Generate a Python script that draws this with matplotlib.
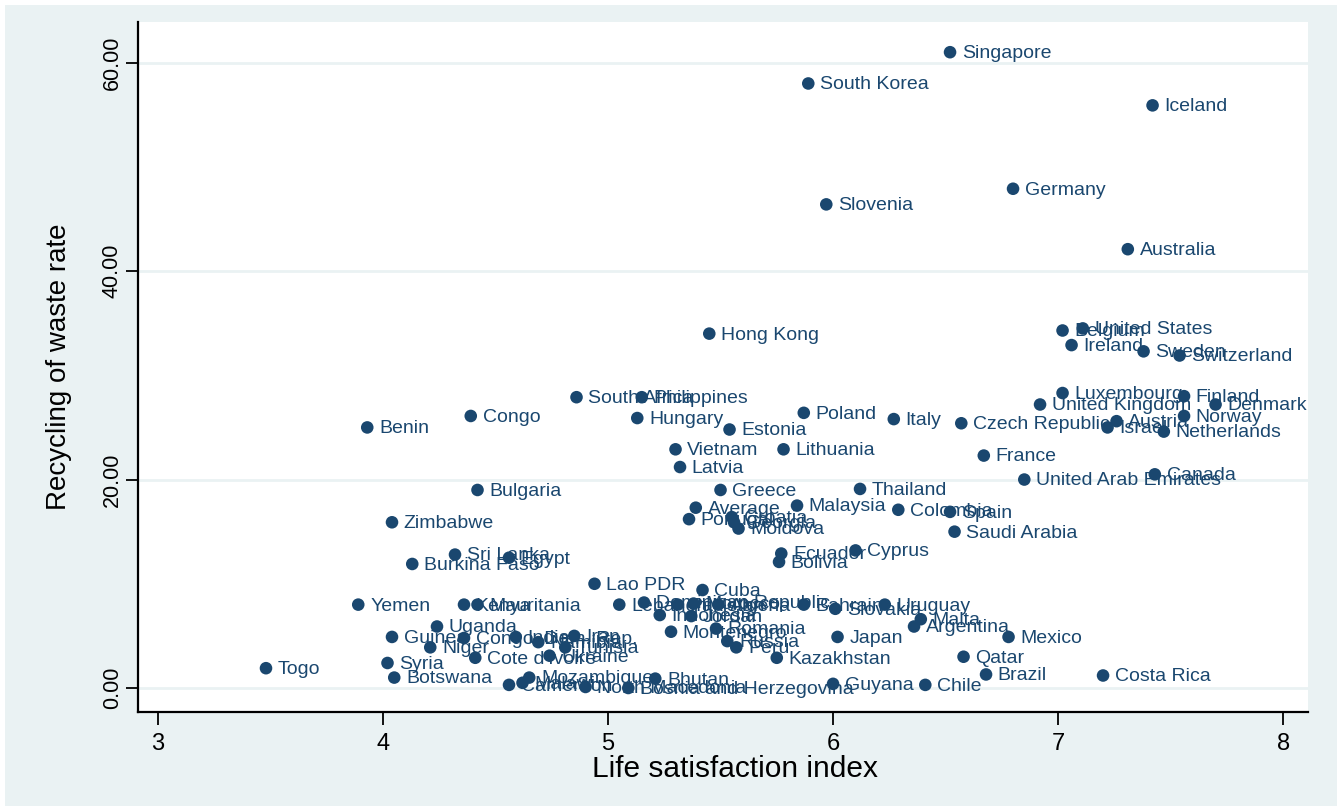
import matplotlib.pyplot as plt
from matplotlib.patches import Rectangle

# life satisfaction index vs. recycling of waste rate, by country
countries = [
    "Singapore", "South Korea", "Iceland", "Germany", "Slovenia", "Australia",
    "Hong Kong", "United States", "Belgium", "Ireland", "Sweden", "Switzerland",
    "South Africa", "Philippines", "Luxembourg", "Finland", "United Kingdom",
    "Denmark", "Congo", "Hungary", "Poland", "Italy", "Norway", "Czech Republic",
    "Austria", "Benin", "Israel", "Estonia", "Netherlands", "Vietnam",
    "Lithuania", "France", "Latvia", "Canada", "United Arab Emirates",
    "Bulgaria", "Greece", "Thailand", "Average", "Malaysia", "Colombia",
    "Spain", "Portugal", "Croatia", "Georgia", "Moldova", "Zimbabwe",
    "Saudi Arabia", "Cyprus", "Ecuador", "Sri Lanka", "Egypt", "Bolivia",
    "Burkina Faso", "Lao PDR", "Cuba", "Yemen", "Kenya", "Mauritania",
    "Lebanon", "Dominican Republic", "Pakistan", "Morocco", "Algeria",
    "Bahrain", "Uruguay", "Slovakia", "Indonesia", "Jordan", "Malta",
    "Argentina", "Uganda", "Romania", "Montenegro", "Iran", "Guinea",
    "Congo, Dem. Rep.", "India", "Japan", "Mexico", "Russia", "Namibia",
    "Niger", "Tunisia", "Peru", "Ukraine", "Cote d'Ivoire", "Kazakhstan",
    "Qatar", "Syria", "Togo", "Brazil", "Costa Rica", "Botswana",
    "Mozambique", "Bhutan", "Malawi", "Cameroon", "Guyana", "Chile",
    "North Macedonia", "Bosnia and Herzegovina",
]
life_sat = [
    6.52, 5.89, 7.42, 6.80, 5.97, 7.31,
    5.45, 7.11, 7.02, 7.06, 7.38, 7.54,
    4.86, 5.15, 7.02, 7.56, 6.92,
    7.70, 4.39, 5.13, 5.87, 6.27, 7.56, 6.57,
    7.26, 3.93, 7.22, 5.54, 7.47, 5.30,
    5.78, 6.67, 5.32, 7.43, 6.85,
    4.42, 5.50, 6.12, 5.39, 5.84, 6.29,
    6.52, 5.36, 5.55, 5.56, 5.58, 4.04,
    6.54, 6.10, 5.77, 4.32, 4.56, 5.76,
    4.13, 4.94, 5.42, 3.89, 4.36, 4.42,
    5.05, 5.16, 5.31, 5.38, 5.49,
    5.87, 6.23, 6.01, 5.23, 5.37, 6.39,
    6.36, 4.24, 5.48, 5.28, 4.85, 4.04,
    4.36, 4.59, 6.02, 6.78, 5.53, 4.69,
    4.21, 4.81, 5.57, 4.74, 4.41, 5.75,
    6.58, 4.02, 3.48, 6.68, 7.20, 4.05,
    4.65, 5.21, 4.62, 4.56, 6.00, 6.41,
    4.90, 5.09,
]
recycling = [
    61.0, 58.0, 55.9, 47.9, 46.4, 42.1,
    34.0, 34.5, 34.3, 32.9, 32.3, 31.9,
    27.9, 27.9, 28.3, 28.0, 27.2,
    27.2, 26.1, 25.9, 26.4, 25.8, 26.1, 25.4,
    25.6, 25.0, 25.0, 24.8, 24.6, 22.9,
    22.9, 22.3, 21.2, 20.5, 20.0,
    19.0, 19.0, 19.1, 17.3, 17.5, 17.1,
    16.9, 16.2, 16.4, 15.9, 15.3, 15.9,
    15.0, 13.2, 12.9, 12.8, 12.5, 12.1,
    11.9, 10.0, 9.4, 8.0, 8.0, 8.0,
    8.0, 8.2, 8.0, 8.1, 8.0,
    8.0, 8.0, 7.6, 7.0, 6.9, 6.6,
    5.9, 5.9, 5.7, 5.4, 5.0, 4.9,
    4.8, 4.9, 4.9, 4.9, 4.5, 4.4,
    3.9, 3.9, 3.9, 3.1, 2.9, 2.9,
    3.0, 2.4, 1.9, 1.3, 1.2, 1.0,
    1.0, 0.9, 0.5, 0.3, 0.4, 0.3,
    0.1, 0.0,
]
x_ticks = [3, 4, 5, 6, 7, 8]
y_ticks = [0, 20, 40, 60]

navy = "#1a476f"
bg = "#eaf2f3"

plt.rcParams['font.family'] = ['Liberation Sans', 'DejaVu Sans']

fig = plt.figure(figsize=(13.42, 8.11), dpi=100)
fig.patches.append(Rectangle((0.004, 0.006), 0.992, 0.988, transform=fig.transFigure,
                             facecolor=bg, edgecolor="none", zorder=-1))
ax = fig.add_axes([0.1028, 0.1221, 0.8719, 0.8508])
ax.set_facecolor("white")

ax.scatter(life_sat, recycling, s=82, color=navy, edgecolors="none", zorder=3)
for name, x, y in zip(countries, life_sat, recycling):
    ax.annotate(name, (x, y), xytext=(8.5, -1), textcoords="offset points",
                ha="left", va="center", fontsize=14, color=navy, zorder=4)

ax.set_xlim(2.911, 8.111)
ax.set_ylim(-2.3, 63.9)
ax.set_xticks(x_ticks)
ax.set_xticklabels([str(t) for t in x_ticks], fontsize=17)
ax.set_yticks(y_ticks)
ax.set_yticklabels(["%.2f" % t for t in y_ticks], fontsize=15.5, rotation=90, va="center")
ax.tick_params(axis="x", length=9, width=1.3, pad=6)
ax.tick_params(axis="y", length=9, width=1.3, pad=2)

ax.yaxis.grid(True, color=bg, linewidth=2)
ax.set_axisbelow(True)

for side in ["top", "right"]:
    ax.spines[side].set_visible(False)
for side in ["left", "bottom"]:
    ax.spines[side].set_linewidth(1.6)

ax.set_xlabel("Life satisfaction index", fontsize=21.5)
ax.set_ylabel("Recycling of waste rate", fontsize=20)
ax.xaxis.set_label_coords(0.51, -0.062)
ax.yaxis.set_label_coords(-0.056, 0.5)

fig.savefig("out.png", dpi=100, facecolor="white")
